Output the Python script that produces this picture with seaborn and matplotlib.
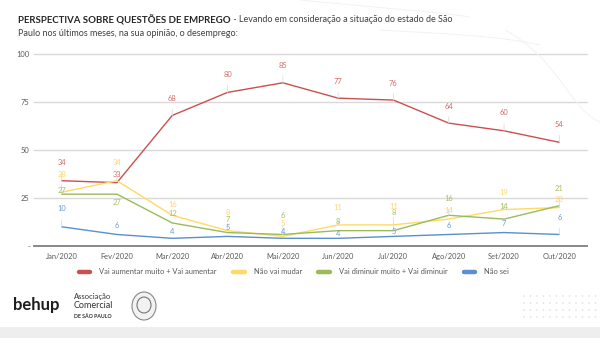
import matplotlib
matplotlib.use("Agg")
import matplotlib.pyplot as plt
from matplotlib.lines import Line2D
from matplotlib.patches import Ellipse, Rectangle, PathPatch
from matplotlib.path import Path
import seaborn as sns
import pandas as pd

# --- data -------------------------------------------------------------
months = ["Jan/2020", "Fev/2020", "Mar/2020", "Abr/2020", "Mai/2020",
          "Jun/2020", "Jul/2020", "Ago/2020", "Set/2020", "Out/2020"]
series_names = ["Vai aumentar muito + Vai aumentar", "Não vai mudar",
                "Vai diminuir muito + Vai diminuir", "Não sei"]
aumentar = [34, 33, 68, 80, 85, 77, 76, 64, 60, 54]
nao_mudar = [28, 34, 16, 8, 5, 11, 11, 14, 19, 20]
diminuir = [27, 27, 12, 7, 6, 8, 8, 16, 14, 21]
nao_sei = [10, 6, 4, 5, 4, 4, 5, 6, 7, 6]
y_ticks = [0, 25, 50, 75, 100]
y_tick_labels = ["-", "25", "50", "75", "100"]

# --- styling ----------------------------------------------------------
line_colors = ["#C9504F", "#FFD966", "#9BBB59", "#5B8FD0"]
label_colors = ["#D36A68", "#FFD56A", "#A3C063", "#6F9AD6"]
# vertical label offsets (pixels, negative = above the point)
label_dy = [
    [-18, -8, -17, -18, -17, -17, -17, -17, -18, -18],
    [-18, -18, -11, -18, -13, -17, -18, -9, -17, -8],
    [-4, 8, -9, -13, -19, -9, -18, -17, -13, -17],
    [-18, -9, -7, -9, -7, -5, -5, -9, -9, -17],
]

values = [aumentar, nao_mudar, diminuir, nao_sei]
df = pd.DataFrame({
    "mes": months * len(series_names),
    "pos": list(range(len(months))) * len(series_names),
    "valor": sum(values, []),
    "serie": [s for s in series_names for _ in months],
})

sns.set_theme(style="white")
plt.rcParams["font.family"] = ["Lato", "DejaVu Sans"]

W, H = 600, 338
fig = plt.figure(figsize=(W / 100, H / 100), dpi=100)
fig.patch.set_facecolor("white")

# light footer band and dot pattern
fig.patches.append(Rectangle((0, 0), 1, 11 / H, transform=fig.transFigure,
                             facecolor="#EEEEEE", edgecolor="none", zorder=0))
for i in range(12):
    for j in range(4):
        fig.patches.append(Ellipse(((524 + i * 6.5) / W, 1 - (296 + j * 7) / H),
                                   1.6 / W, 1.6 / H, transform=fig.transFigure,
                                   facecolor="#DDDDDD", edgecolor="none"))

# faint decorative curves
for verts in [
    [(300, 0), (380, 8), (440, 12), (470, 17)],
    [(380, 30), (450, 34), (500, 36), (540, 45)],
    [(505, 30), (560, 60), (570, 110), (600, 122)],
]:
    pv = [(x / W, 1 - y / H) for x, y in verts]
    fig.patches.append(PathPatch(Path(pv, [Path.MOVETO] + [Path.CURVE4] * 3),
                                 transform=fig.transFigure, facecolor="none",
                                 edgecolor="#F2F2F2", lw=0.7))

ax = fig.add_axes([34 / W, 1 - 246 / H, 553 / W, 192 / H])
ax.set_facecolor("none")

sns.lineplot(data=df, x="pos", y="valor", hue="serie", hue_order=series_names,
             palette=line_colors, linewidth=1.0, legend=False, ax=ax,
             sort=False, zorder=3)
for ln in ax.lines:
    ln.set_clip_on(False)

ax.set_xlim(-0.5, len(months) - 0.5)
ax.set_ylim(0, 100)
ax.set_xticks(range(len(months)))
ax.set_xticklabels(months)
ax.set_yticks(y_ticks)
ax.set_yticklabels(y_tick_labels)
ax.tick_params(axis="both", length=0, labelsize=5.4, labelcolor="#595959")
ax.tick_params(axis="x", pad=5)
ax.tick_params(axis="y", pad=3)
ax.set_xlabel("")
ax.set_ylabel("")
for s in ["top", "right", "left"]:
    ax.spines[s].set_visible(False)
ax.spines["bottom"].set_color("#7F7F7F")
ax.spines["bottom"].set_linewidth(1.3)
for yv in y_ticks[1:]:
    ax.axhline(yv, color="#D9D9D9", lw=1.0, zorder=1, clip_on=False)

# data labels with leader lines
px = 72 / 100
for k, vals in enumerate(values):
    for i, v in enumerate(vals):
        dy = -label_dy[k][i] * px
        leader = label_dy[k][i] <= -15
        ax.annotate(str(v), xy=(i, v), xytext=(0, dy), textcoords="offset points",
                    ha="center", va="center", fontsize=5.4, color=label_colors[k],
                    annotation_clip=False, zorder=4,
                    arrowprops=dict(arrowstyle="-", color="#DCDCDC", lw=0.6,
                                    shrinkA=3, shrinkB=0) if leader else None)

# legend
handles = [Line2D([0], [0], color=c, lw=3.2) for c in line_colors]
fig.legend(handles, series_names, loc="center", bbox_to_anchor=(294 / W, 1 - 272 / H),
           ncol=4, frameon=False, fontsize=5.4, labelcolor="#595959",
           handlelength=1.5, handletextpad=1.2, columnspacing=2.2)

# title
t1 = fig.text(18 / W, 1 - 20 / H, "PERSPECTIVA SOBRE QUESTÕES DE EMPREGO",
              fontsize=6.9, fontweight="bold", color="#262626", va="center")
fig.canvas.draw()
bb = t1.get_window_extent(fig.canvas.get_renderer())
fig.text(bb.x1 / W, 1 - 20 / H,
         " - Levando em consideração a situação do estado de São",
         fontsize=6.5, color="#404040", va="center")
fig.text(18 / W, 1 - 33 / H, "Paulo nos últimos meses, na sua opinião, o desemprego:",
         fontsize=6.5, color="#404040", va="center")

# footer logos
fig.text(13 / W, 1 - 305 / H, "behup", fontsize=12, fontweight="bold",
         color="#1E1E1E", va="center")
fig.text(74 / W, 1 - 296 / H, "Associação", fontsize=5.5, color="#333333", va="center")
fig.text(74 / W, 1 - 306 / H, "Comercial", fontsize=6.5, color="#333333", va="center")
fig.text(74 / W, 1 - 316 / H, "DE SÃO PAULO", fontsize=3.8, fontweight="bold",
         color="#333333", va="center")
fig.patches.append(Ellipse((144 / W, 1 - 306 / H), 24 / W, 28 / H,
                           transform=fig.transFigure, facecolor="#F2F2F2",
                           edgecolor="#888888", lw=0.8))
fig.patches.append(Ellipse((144 / W, 1 - 305 / H), 14 / W, 16 / H,
                           transform=fig.transFigure, facecolor="none",
                           edgecolor="#666666", lw=0.7))

fig.savefig("out.png", dpi=100, facecolor="white")
